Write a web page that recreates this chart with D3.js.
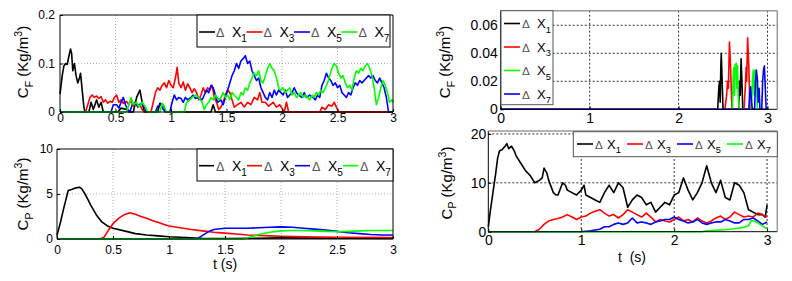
<!DOCTYPE html>
<html><head><meta charset="utf-8">
<script src="https://cdn.jsdelivr.net/npm/d3@7"></script>
<style>body{margin:0;background:#fff}svg{display:block}text{font-family:"Liberation Sans",Arial,sans-serif}</style>
</head><body>
<script>
// ---------- DATA ----------
const seriesNames = ["X1","X3","X5","X7"];
const ticksLeftX = [0,0.5,1,1.5,2,2.5,3];
const ticksRightX = [0,1,2,3];
const ticksCFLeft = [0,0.1,0.2];
const ticksCPLeft = [0,5,10];
const ticksCFRight = [0,0.02,0.04,0.06];
const ticksCPRight = [0,10,20];

// top-left C_F
const cfL_X1 = [[0,0.037],[0.02,0.075],[0.035,0.095],[0.05,0.1],[0.065,0.098],[0.08,0.115],[0.095,0.13],[0.105,0.12],[0.115,0.085],[0.13,0.1],[0.145,0.075],[0.16,0.06],[0.175,0.07],[0.185,0.08],[0.2,0.045],[0.215,0.01],[0.225,0],[0.26,0],[0.28,0.02],[0.3,0.005],[0.33,0.025],[0.35,0.01],[0.37,0.02],[0.39,0],[0.52,0],[0.55,0.008],[0.6,0.005],[0.62,0],[0.66,0],[0.69,0.03],[0.72,0.045],[0.74,0.02],[0.76,0],[0.88,0],[0.9,0.018],[0.93,0.015],[0.95,0],[1.36,0],[1.38,0.015],[1.4,0],[3,0]];
const cfL_X3 = [[0,0],[0.23,0],[0.25,0.015],[0.27,0.03],[0.29,0.035],[0.31,0.03],[0.33,0.033],[0.35,0.028],[0.37,0.032],[0.39,0.02],[0.41,0.025],[0.43,0.018],[0.45,0.022],[0.47,0.02],[0.49,0.03],[0.51,0.035],[0.53,0.02],[0.55,0.025],[0.57,0.018],[0.6,0.022],[0.62,0.015],[0.64,0.025],[0.66,0.012],[0.68,0.02],[0.7,0.01],[0.72,0.015],[0.74,0.005],[0.76,0],[0.82,0],[0.84,0.02],[0.86,0.04],[0.88,0.05],[0.9,0.045],[0.92,0.055],[0.94,0.06],[0.96,0.05],[0.98,0.065],[1.0,0.055],[1.02,0.05],[1.04,0.07],[1.055,0.092],[1.07,0.06],[1.09,0.05],[1.11,0.062],[1.13,0.045],[1.15,0.058],[1.17,0.05],[1.19,0.04],[1.21,0.048],[1.23,0.04],[1.25,0.025],[1.27,0.035],[1.29,0.05],[1.31,0.04],[1.33,0.05],[1.35,0.045],[1.37,0.055],[1.39,0.03],[1.41,0.02],[1.43,0.005],[1.45,0.01],[1.47,0.02],[1.49,0.035],[1.51,0.045],[1.53,0.04],[1.55,0.025],[1.57,0.01],[1.6,0.015],[1.63,0.02],[1.66,0.01],[1.69,0.02],[1.72,0.015],[1.75,0.03],[1.78,0.025],[1.8,0.04],[1.82,0.02],[1.85,0.02],[1.88,0.012],[1.92,0.02],[1.95,0.01],[1.98,0.015],[2.02,0],[2.04,0.02],[2.06,0],[2.34,0],[2.36,0.01],[2.39,0.005],[2.42,0.015],[2.45,0.012],[2.47,0.02],[2.49,0.01],[2.51,0],[3,0]];
const cfL_X5 = [[0,0],[0.46,0],[0.48,0.015],[0.51,0.015],[0.53,0.008],[0.55,0.02],[0.57,0.03],[0.59,0.015],[0.61,0.005],[0.63,0],[0.65,0.015],[0.68,0.02],[0.7,0.012],[0.73,0.018],[0.76,0.01],[0.78,0],[0.86,0],[0.88,0.012],[0.91,0.015],[0.93,0.005],[0.95,0],[0.99,0],[1.01,0.02],[1.03,0.035],[1.05,0.025],[1.07,0.03],[1.09,0.028],[1.11,0.02],[1.13,0.03],[1.15,0.025],[1.18,0.03],[1.2,0.035],[1.22,0.028],[1.25,0.03],[1.28,0.025],[1.3,0.035],[1.32,0.045],[1.34,0.04],[1.36,0.055],[1.38,0.05],[1.4,0.035],[1.42,0.02],[1.45,0.025],[1.47,0.015],[1.49,0.03],[1.51,0.045],[1.53,0.06],[1.55,0.075],[1.57,0.085],[1.59,0.1],[1.61,0.09],[1.63,0.105],[1.65,0.11],[1.67,0.116],[1.69,0.1],[1.71,0.105],[1.73,0.085],[1.75,0.075],[1.77,0.065],[1.79,0.07],[1.81,0.05],[1.83,0.04],[1.85,0.03],[1.87,0.025],[1.89,0.04],[1.91,0.03],[1.93,0.045],[1.95,0.035],[1.97,0.045],[1.99,0.04],[2.01,0.035],[2.03,0.045],[2.05,0.03],[2.07,0.035],[2.09,0.04],[2.11,0.05],[2.13,0.04],[2.15,0.035],[2.18,0.03],[2.2,0.04],[2.22,0.03],[2.25,0.035],[2.28,0.03],[2.3,0.025],[2.32,0.035],[2.34,0.03],[2.36,0.055],[2.38,0.065],[2.4,0.08],[2.42,0.07],[2.44,0.065],[2.46,0.055],[2.48,0.06],[2.5,0.05],[2.52,0.055],[2.54,0.04],[2.56,0.035],[2.58,0.03],[2.6,0.04],[2.62,0.035],[2.64,0.05],[2.66,0.06],[2.68,0.055],[2.7,0.065],[2.72,0.06],[2.74,0.065],[2.76,0.07],[2.78,0.075],[2.8,0.07],[2.82,0.075],[2.84,0.065],[2.86,0.06],[2.88,0.07],[2.9,0.06],[2.92,0.05],[2.94,0.03],[2.96,0],[3,0]];
const cfL_X7 = [[0,0],[0.6,0],[0.62,0.015],[0.64,0.03],[0.66,0.015],[0.69,0.02],[0.71,0.01],[0.74,0.02],[0.77,0.01],[0.79,0],[0.9,0],[0.92,0.018],[0.94,0.01],[0.96,0],[1.12,0],[1.14,0.02],[1.17,0.025],[1.19,0.03],[1.22,0.035],[1.25,0.03],[1.28,0.02],[1.3,0.005],[1.32,0.015],[1.34,0.02],[1.36,0.03],[1.38,0.025],[1.4,0.035],[1.43,0.025],[1.45,0.03],[1.47,0.04],[1.49,0.03],[1.51,0.035],[1.53,0.025],[1.55,0.04],[1.57,0.035],[1.59,0.03],[1.61,0.025],[1.63,0.04],[1.65,0.035],[1.67,0.05],[1.69,0.045],[1.71,0.06],[1.73,0.07],[1.75,0.08],[1.77,0.075],[1.79,0.085],[1.81,0.065],[1.83,0.06],[1.85,0.075],[1.87,0.09],[1.89,0.1],[1.91,0.09],[1.93,0.085],[1.95,0.07],[1.97,0.05],[1.99,0.045],[2.01,0.05],[2.03,0.04],[2.05,0.045],[2.07,0.05],[2.09,0.035],[2.11,0.04],[2.13,0.03],[2.15,0.035],[2.17,0.04],[2.19,0.03],[2.21,0.035],[2.23,0.03],[2.25,0.025],[2.27,0.035],[2.29,0.03],[2.31,0.04],[2.33,0.035],[2.35,0.045],[2.37,0.04],[2.39,0.05],[2.41,0.06],[2.43,0.075],[2.45,0.09],[2.47,0.1],[2.49,0.095],[2.51,0.08],[2.53,0.07],[2.55,0.075],[2.57,0.06],[2.59,0.05],[2.61,0.055],[2.63,0.045],[2.65,0.07],[2.67,0.085],[2.69,0.08],[2.71,0.09],[2.73,0.085],[2.75,0.095],[2.77,0.1],[2.79,0.09],[2.81,0.075],[2.83,0.05],[2.85,0.015],[2.87,0.03],[2.89,0.05],[2.91,0.065],[2.93,0.055],[2.95,0.04],[2.97,0.02],[2.99,0.025],[3,0.02]];

// bottom-left C_P
const cpL_X1 = [[0,0.4],[0.03,1.8],[0.06,3.4],[0.09,4.9],[0.1,5.4],[0.13,5.5],[0.16,5.65],[0.2,5.75],[0.22,5.6],[0.25,5.0],[0.28,4.3],[0.3,3.8],[0.35,2.7],[0.4,1.9],[0.45,1.45],[0.5,1.2],[0.6,0.9],[0.7,0.6],[0.8,0.45],[0.9,0.35],[1.0,0.25],[1.1,0.2],[1.2,0.12],[1.3,0.06],[1.5,0.05],[1.8,0.08],[2.0,0.12],[2.3,0.1],[2.6,0.08],[3,0.05]];
const cpL_X3 = [[0,0],[0.38,0],[0.42,0.2],[0.45,0.8],[0.5,1.7],[0.55,2.3],[0.6,2.7],[0.65,2.92],[0.7,2.75],[0.75,2.5],[0.8,2.3],[0.85,2.05],[0.9,1.85],[0.95,1.65],[1.0,1.45],[1.1,1.25],[1.2,1.05],[1.3,0.9],[1.4,0.75],[1.5,0.65],[1.6,0.55],[1.7,0.45],[1.8,0.4],[1.9,0.35],[2.0,0.3],[2.2,0.25],[2.5,0.2],[3,0.15]];
const cpL_X5 = [[0,0],[1.25,0],[1.3,0.4],[1.35,0.8],[1.4,1.05],[1.5,1.2],[1.6,1.2],[1.7,1.2],[1.8,1.25],[1.9,1.3],[2.0,1.35],[2.1,1.3],[2.2,1.2],[2.3,1.1],[2.4,1.0],[2.5,0.85],[2.6,0.7],[2.7,0.6],[2.8,0.5],[2.9,0.45],[3,0.45]];
const cpL_X7 = [[0,0],[1.65,0],[1.7,0.1],[1.8,0.5],[1.9,0.75],[2.0,0.9],[2.1,0.95],[2.2,0.95],[2.3,0.9],[2.4,0.85],[2.5,0.8],[2.6,0.85],[2.7,0.9],[2.8,0.95],[2.9,0.95],[3,0.95]];

// top-right C_F
const cfR_X1 = [[0,0],[2.44,0],[2.452,0.015],[2.46,0.02],[2.468,0.005],[2.475,0.03],[2.48,0.04],[2.49,0.02],[2.5,0],[3,0]];
const cfR_X1b = [[2.675,0],[2.685,0.02],[2.693,0.01],[2.703,0.036],[2.712,0.02],[2.722,0]];
const cfR_X3 = [[2.52,0],[2.54,0.01],[2.55,0.02],[2.56,0.015],[2.572,0.048],[2.585,0.03],[2.6,0],[2.735,0],[2.75,0.015],[2.76,0.03],[2.766,0.02],[2.776,0.051],[2.79,0.03],[2.803,0]];
const cfR_X5 = [[2.605,0],[2.615,0.025],[2.62,0.03],[2.628,0.01],[2.635,0.032],[2.64,0.028],[2.648,0.033],[2.655,0.015],[2.663,0.031],[2.67,0.01],[2.68,0],[2.82,0],[2.83,0.02],[2.84,0.028],[2.85,0.01],[2.86,0.028],[2.87,0.027],[2.88,0.01],[2.887,0]];
const cfR_X7 = [[0,0],[2.79,0],[2.8,0.012],[2.81,0.016],[2.82,0.005],[2.83,0],[2.855,0],[2.865,0.02],[2.875,0.028],[2.885,0.022],[2.895,0.005],[2.905,0.015],[2.915,0],[2.935,0],[2.945,0.02],[2.955,0.028],[2.965,0.031],[2.975,0.015],[2.985,0],[3,0]];

// bottom-right C_P
const cpR_X1 = [[0,1],[0.02,4],[0.05,8],[0.08,12],[0.1,15],[0.12,16.5],[0.15,16.8],[0.18,17.5],[0.2,18],[0.22,17],[0.25,17.5],[0.28,16.5],[0.3,15.5],[0.35,14],[0.4,12.5],[0.45,11.5],[0.5,10],[0.55,10.5],[0.58,11],[0.6,13],[0.63,12],[0.65,10.5],[0.7,8],[0.73,7.5],[0.75,7.5],[0.8,10],[0.83,9.5],[0.85,8.5],[0.9,8],[0.95,7.5],[1.0,8.5],[1.03,9.5],[1.05,7.5],[1.1,7],[1.15,6.5],[1.2,6],[1.25,8],[1.3,9.5],[1.35,8],[1.4,10],[1.45,9],[1.5,5],[1.55,6.5],[1.6,7.5],[1.65,7],[1.7,5.5],[1.75,6],[1.8,4],[1.85,5],[1.9,6],[1.95,5.5],[2.0,7.5],[2.05,8],[2.1,11],[2.15,8.5],[2.2,6.5],[2.25,8],[2.3,10],[2.35,13.5],[2.4,10],[2.45,8],[2.5,10.5],[2.55,7],[2.6,6.5],[2.65,10],[2.7,9.5],[2.75,8],[2.8,4.5],[2.85,4],[2.9,3.5],[2.95,3.5],[2.98,3],[3.0,5.5]];
const cpR_X3 = [[0,0],[0.5,0],[0.55,0.5],[0.6,1.5],[0.65,2.2],[0.7,2.5],[0.75,2.7],[0.8,3],[0.85,3.5],[0.9,3],[0.95,2.5],[1.0,3],[1.05,3.2],[1.1,3.8],[1.15,4.2],[1.2,4.5],[1.25,3.8],[1.3,3.2],[1.35,3.5],[1.4,2.8],[1.45,3.5],[1.5,4.5],[1.55,4],[1.6,3.5],[1.65,3],[1.7,3.8],[1.75,3],[1.8,2],[1.85,2.5],[1.9,2.2],[1.95,2],[2.0,2.5],[2.05,3],[2.1,2.2],[2.15,2.5],[2.2,2],[2.25,2.8],[2.3,2.2],[2.35,1.8],[2.4,2.2],[2.45,2.8],[2.5,3.2],[2.55,2.5],[2.6,3],[2.65,4],[2.7,3.5],[2.75,3],[2.8,3.2],[2.85,3],[2.9,3.8],[2.95,3.5],[3.0,3.0]];
const cpR_X5 = [[0,0],[1.0,0],[1.1,0.2],[1.2,0.5],[1.25,1],[1.3,1],[1.35,1.5],[1.4,1.8],[1.45,1.5],[1.5,1.8],[1.55,2.8],[1.6,1.8],[1.65,2],[1.7,1.8],[1.75,1.5],[1.8,2],[1.85,2.2],[1.9,2.5],[1.95,2.5],[2.0,3],[2.05,2.5],[2.1,2.2],[2.15,1.8],[2.2,2],[2.25,2.5],[2.3,1.8],[2.35,1.5],[2.4,1.8],[2.45,2.0],[2.5,2.0],[2.55,2.5],[2.6,2.2],[2.65,1.8],[2.7,1.8],[2.75,2.5],[2.8,2.5],[2.85,2.8],[2.9,2.2],[2.95,1.5],[3.0,2]];
const cpR_X7 = [[0,0],[2.3,0],[2.35,0.2],[2.45,0.3],[2.55,0.4],[2.65,0.6],[2.75,0.9],[2.8,1.2],[2.83,2.3],[2.86,2.2],[2.9,1.8],[2.95,1.2],[2.98,0.8],[3.0,0.6]];

const colK="#000000", colR="#ff0000", colB="#0000ff", colG="#00ff00";

// ---------- DRAW ----------
const svg = d3.select("body").append("svg").attr("width",792).attr("height",281);
svg.append("rect").attr("width",792).attr("height",281).attr("fill","#fff");

function yLabel(cx, cy, fs, sub){
  const t = svg.append("text").attr("transform",`translate(${cx+fs*0.36},${cy}) rotate(-90)`)
    .attr("text-anchor","middle").attr("font-size",fs).attr("fill","#000");
  t.append("tspan").text("C");
  t.append("tspan").attr("font-size",fs*0.7).attr("dy",fs*0.3).text(sub);
  t.append("tspan").attr("dy",-fs*0.3).text("\u00a0(Kg/m");
  t.append("tspan").attr("font-size",fs*0.7).attr("dy",-fs*0.4).text("3");
  t.append("tspan").attr("dy",fs*0.4).text(")");
}

function panel(c){
  const x = d3.scaleLinear().domain(c.xDomain).range([c.x0,c.x1]);
  const y = d3.scaleLinear().domain(c.yDomain).range([c.y1,c.y0]);
  const g = svg.append("g");
  // grid
  const gx = c.xTicks.filter(t=>x(t)>c.x0+1 && x(t)<c.x1-1);
  const gy = c.yTicks.filter(t=>y(t)<c.y1-1 && y(t)>c.y0+1);
  g.selectAll(".gx").data(gx).join("line").attr("x1",d=>x(d)).attr("x2",d=>x(d))
    .attr("y1",c.y0).attr("y2",c.y1).attr("stroke",c.gridColor).attr("stroke-width",1).attr("stroke-dasharray",c.gridDash);
  g.selectAll(".gy").data(gy).join("line").attr("y1",d=>y(d)).attr("y2",d=>y(d))
    .attr("x1",c.x0).attr("x2",c.x1).attr("stroke",c.gridColor).attr("stroke-width",1).attr("stroke-dasharray",c.gridDash);
  // series
  const line = d3.line().x(d=>x(d[0])).y(d=>y(d[1]));
  c.series.forEach(s=>{
    g.append("path").datum(s.data).attr("d",line).attr("fill","none")
      .attr("stroke",s.color).attr("stroke-width",c.lw).attr("stroke-linejoin","round");
  });
  // axes
  const xa = d3.axisBottom(x).tickValues(c.xTicks).tickFormat(d3.format("~g"))
    .tickSizeInner(-3).tickSizeOuter(0).tickPadding(c.xPad);
  const ya = d3.axisLeft(y).tickValues(c.yTicks).tickFormat(d3.format("~g"))
    .tickSizeInner(-3).tickSizeOuter(0).tickPadding(c.yPad);
  const ax = g.append("g").attr("transform",`translate(0,${c.y1})`).call(xa);
  const ay = g.append("g").attr("transform",`translate(${c.x0},0)`).call(ya);
  [ax,ay].forEach(a=>{
    a.select(".domain").remove();
    a.attr("font-family",null).attr("font-size",null);
    a.selectAll("text").attr("font-size",c.fs).attr("fill","#000").attr("font-family",'"Liberation Sans",Arial,sans-serif');
    a.selectAll("line").attr("stroke","#000");
  });
  // box
  g.append("line").attr("x1",c.x0).attr("x2",c.x1).attr("y1",c.y1).attr("y2",c.y1).attr("stroke","#000");
  g.append("line").attr("x1",c.x0).attr("x2",c.x0).attr("y1",c.y0).attr("y2",c.y1).attr("stroke","#000");
  g.append("line").attr("x1",c.x0).attr("x2",c.x1).attr("y1",c.y0).attr("y2",c.y0).attr("stroke",c.boxColor).attr("stroke-width",c.boxW);
  g.append("line").attr("x1",c.x1).attr("x2",c.x1).attr("y1",c.y0).attr("y2",c.y1).attr("stroke",c.boxColor).attr("stroke-width",c.boxW);
  // legend
  const L = c.legend;
  g.append("rect").attr("x",L.box[0]).attr("y",L.box[1]).attr("width",L.box[2]).attr("height",L.box[3])
    .attr("fill","#fff").attr("stroke",L.stroke).attr("stroke-width",1);
  c.series.filter(s=>s.label).forEach((s,i)=>{
    const sx = L.horizontal ? L.start + i*L.step : L.start;
    const ly = L.horizontal ? L.lineY : L.lineY + i*L.step;
    g.append("line").attr("x1",sx).attr("x2",sx+L.len).attr("y1",ly).attr("y2",ly)
      .attr("stroke",s.color).attr("stroke-width",c.lw);
    g.append("text").attr("x",sx+L.dOff).attr("y",ly+L.fs*0.36).attr("font-size",L.fs*0.9).attr("fill","#555").text("\u0394");
    const t = g.append("text").attr("x",sx+L.xOff).attr("y",ly+L.fs*0.36).attr("font-size",L.fs).attr("fill","#000");
    t.append("tspan").text("X");
    t.append("tspan").attr("font-size",L.fs*0.72).attr("dy",L.fs*0.35).text(s.label.slice(1));
  });
  return {x,y};
}

// top-left
panel({x0:60,x1:393,y0:15,y1:112,xDomain:[0,3],yDomain:[0,0.2],xTicks:ticksLeftX,yTicks:ticksCFLeft,
  fs:12,xPad:1.5,yPad:5,lw:1.6,gridColor:"#b0b0b0",gridDash:"1,2",boxColor:"#000",boxW:1,
  series:[{data:cfL_X1,color:colK,label:"X1"},{data:cfL_X3,color:colR,label:"X3"},{data:cfL_X5,color:colB,label:"X5"},{data:cfL_X7,color:colG,label:"X7"}],
  legend:{box:[197,15,193,32],horizontal:true,start:199,step:47.5,lineY:32,len:16,dOff:17,xOff:33,fs:14,stroke:"#000"}});
yLabel(23,62,15,"F");

// bottom-left
panel({x0:57,x1:393,y0:149,y1:239,xDomain:[0,3],yDomain:[0,10],xTicks:ticksLeftX,yTicks:ticksCPLeft,
  fs:12,xPad:6.5,yPad:4,lw:1.6,gridColor:"#b0b0b0",gridDash:"1,2",boxColor:"#000",boxW:1,
  series:[{data:cpL_X1,color:colK,label:"X1"},{data:cpL_X3,color:colR,label:"X3"},{data:cpL_X5,color:colB,label:"X5"},{data:cpL_X7,color:colG,label:"X7"}],
  legend:{box:[197,149,196,32],horizontal:true,start:199,step:48,lineY:165.7,len:15,dOff:17,xOff:33,fs:14,stroke:"#000"}});
yLabel(23,194,15,"P");
svg.append("text").attr("x",225).attr("y",269).attr("text-anchor","middle").attr("font-size",14).text("t (s)");

// top-right
panel({x0:500.7,x1:777.3,y0:10.7,y1:109.3,xDomain:[0,3.11],yDomain:[0,0.0704],xTicks:ticksRightX,yTicks:ticksCFRight,
  fs:14,xPad:3.8,yPad:3,lw:1.6,gridColor:"#333",gridDash:"2,2",boxColor:"#999",boxW:1.5,
  series:[{data:cfR_X1,color:colK,label:"X1"},{data:cfR_X1b,color:colK},{data:cfR_X3,color:colR,label:"X3"},{data:cfR_X5,color:colG,label:"X5"},{data:cfR_X7,color:colB,label:"X7"}],
  legend:{box:[501,10.7,52,94],horizontal:false,start:504,step:23.5,lineY:23.5,len:16,dOff:18,xOff:33,fs:13,stroke:"#555"}});
yLabel(445,62,15,"F");

// bottom-right
panel({x0:488.3,x1:777.3,y0:131,y1:231.7,xDomain:[0,3.11],yDomain:[0,20.6],xTicks:ticksRightX,yTicks:ticksCPRight,
  fs:14,xPad:3.4,yPad:2,lw:1.6,gridColor:"#333",gridDash:"2,2",boxColor:"#999",boxW:1.5,
  series:[{data:cpR_X1,color:colK,label:"X1"},{data:cpR_X3,color:colR,label:"X3"},{data:cpR_X5,color:colB,label:"X5"},{data:cpR_X7,color:colG,label:"X7"}],
  legend:{box:[573.3,131.7,204,25],horizontal:true,start:577,step:50,lineY:144,len:16,dOff:18,xOff:30,fs:13,stroke:"#555"}});
yLabel(446.5,183,15,"P");
svg.append("text").attr("x",632).attr("y",261.5).attr("text-anchor","middle").attr("font-size",14).text("t\u00a0\u00a0(s)");
</script>
</body></html>
